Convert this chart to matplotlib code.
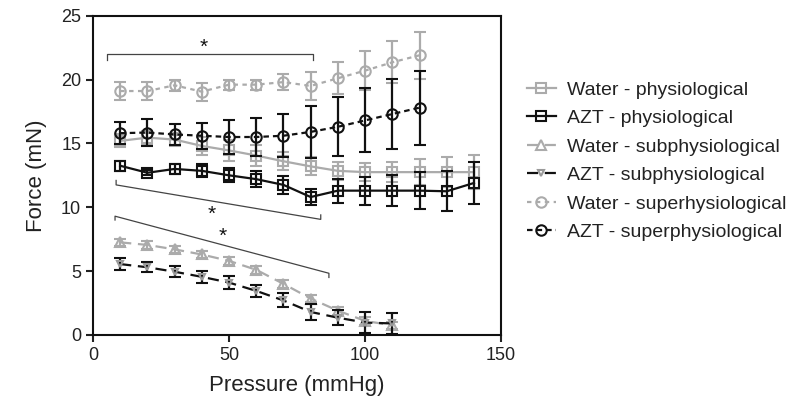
import matplotlib
matplotlib.use("Agg")
import matplotlib.pyplot as plt

plt.rcParams['font.family'] = ['Liberation Sans', 'DejaVu Sans']

# ---- data ----
x_phys = [10, 20, 30, 40, 50, 60, 70, 80, 90, 100, 110, 120, 130, 140]
water_phys = [15.2, 15.45, 15.3, 14.8, 14.45, 14.05, 13.6, 13.2, 12.85, 12.75, 12.75, 12.75, 12.75, 12.75]
water_phys_err = [0.5, 0.5, 0.5, 0.7, 0.8, 0.8, 0.7, 0.7, 0.7, 0.7, 0.8, 1.0, 1.2, 1.35]
azt_phys = [13.25, 12.7, 13.0, 12.85, 12.5, 12.2, 11.75, 10.8, 11.3, 11.3, 11.3, 11.3, 11.25, 11.9]
azt_phys_err = [0.4, 0.2, 0.4, 0.5, 0.55, 0.6, 0.7, 0.6, 0.95, 1.1, 1.2, 1.45, 1.55, 1.65]

x_sub = [10, 20, 30, 40, 50, 60, 70, 80, 90, 100, 110]
water_sub = [7.25, 7.05, 6.7, 6.3, 5.8, 5.1, 4.0, 2.85, 1.9, 1.1, 0.75]
water_sub_err = [0.3, 0.3, 0.3, 0.3, 0.3, 0.3, 0.3, 0.3, 0.3, 0.3, 0.3]
azt_sub = [5.55, 5.3, 4.95, 4.55, 4.1, 3.45, 2.7, 1.8, 1.35, 0.97, 0.9]
azt_sub_err = [0.45, 0.4, 0.45, 0.45, 0.5, 0.5, 0.55, 0.6, 0.6, 0.85, 0.85]

x_super = [10, 20, 30, 40, 50, 60, 70, 80, 90, 100, 110, 120]
water_super = [19.1, 19.1, 19.55, 19.05, 19.6, 19.6, 19.8, 19.5, 20.1, 20.7, 21.35, 21.9]
water_super_err = [0.7, 0.7, 0.45, 0.7, 0.4, 0.4, 0.6, 1.1, 1.25, 1.5, 1.65, 1.85]
azt_super = [15.8, 15.85, 15.7, 15.6, 15.5, 15.5, 15.6, 15.9, 16.3, 16.8, 17.3, 17.8]
azt_super_err = [0.85, 1.05, 0.85, 1.0, 1.35, 1.5, 1.7, 2.05, 2.3, 2.5, 2.75, 2.9]

labels = ["Water - physiological", "AZT - physiological",
          "Water - subphysiological", "AZT - subphysiological",
          "Water - superhysiological", "AZT - superphysiological"]

x_ticks = [0, 50, 100, 150]
y_ticks = [0, 5, 10, 15, 20, 25]

# significance brackets (annotation positions)
brk_top = ([5, 5, 81, 81], [21.5, 22.0, 22.0, 21.5])
star_top = (40.7, 22.55)
brk_mid = ([8.5, 8.5, 83.7, 83.7], [12.1, 11.75, 9.05, 9.4])
star_mid = (43.7, 9.45)
brk_low = ([8.1, 8.1, 86.7, 86.7], [9.0, 9.3, 4.83, 4.5])
star_low = (47.7, 7.7)

GRAY = '#ababab'
BLK = '#111111'

fig = plt.figure(figsize=(7.88, 4.13), dpi=100)
ax = fig.add_axes([0.118, 0.189, 0.518, 0.773])

# (x, y, err, colour, marker, marker edge colour, marker size, linestyle, zorder)
series = [
    (x_phys, water_phys, water_phys_err, GRAY, 's', GRAY, 7, '-', 1),
    (x_phys, azt_phys, azt_phys_err, BLK, 's', BLK, 7, '-', 3),
    (x_sub, water_sub, water_sub_err, GRAY, '^', GRAY, 7, (0, (5, 3)), 1),
    (x_sub, azt_sub, azt_sub_err, BLK, 'v', '#9a9a9a', 5, (0, (5, 3)), 3),
    (x_super, water_super, water_super_err, GRAY, 'o', GRAY, 7.5, (0, (2, 2)), 1),
    (x_super, azt_super, azt_super_err, BLK, 'o', BLK, 7.5, (0, (2.5, 1.8)), 3),
]

handles = []
for (xs, ys, es, col, mk, mec, ms, ls, z), lab in zip(series, labels):
    c = ax.errorbar(xs, ys, yerr=es, color=col, ecolor=col, elinewidth=1.6,
                    capsize=4.5, capthick=1.6, marker=mk, markersize=ms,
                    markerfacecolor='none', markeredgecolor=mec, markeredgewidth=1.5,
                    linestyle=ls, linewidth=1.6, zorder=z, label=lab)
    handles.append(c.lines[0])

# brackets
for (bx, by) in (brk_top, brk_mid, brk_low):
    ax.plot(bx, by, color='#444444', lw=0.9, zorder=0)
for (sx, sy) in (star_top, star_mid, star_low):
    ax.text(sx, sy, '*', ha='center', va='center', fontsize=15, color='#111111')

ax.set_xlim(0, 150)
ax.set_ylim(0, 25)
ax.set_xticks(x_ticks)
ax.set_yticks(y_ticks)
ax.tick_params(direction='out', length=5, width=1.5, labelsize=13, colors='#222222')
for s in ax.spines.values():
    s.set_linewidth(1.5)
    s.set_color('#111111')
ax.set_xlabel('Pressure (mmHg)', fontsize=16, labelpad=8, color='#222222')
ax.set_ylabel('Force (mN)', fontsize=16, labelpad=10, color='#222222')

leg = ax.legend(handles, labels, loc='center left', bbox_to_anchor=(1.045, 0.545),
                frameon=False, fontsize=14, handlelength=1.45, handletextpad=0.6,
                labelspacing=0.56, borderaxespad=0)
for t in leg.get_texts():
    t.set_color('#222222')

fig.savefig('out.png', dpi=100)
